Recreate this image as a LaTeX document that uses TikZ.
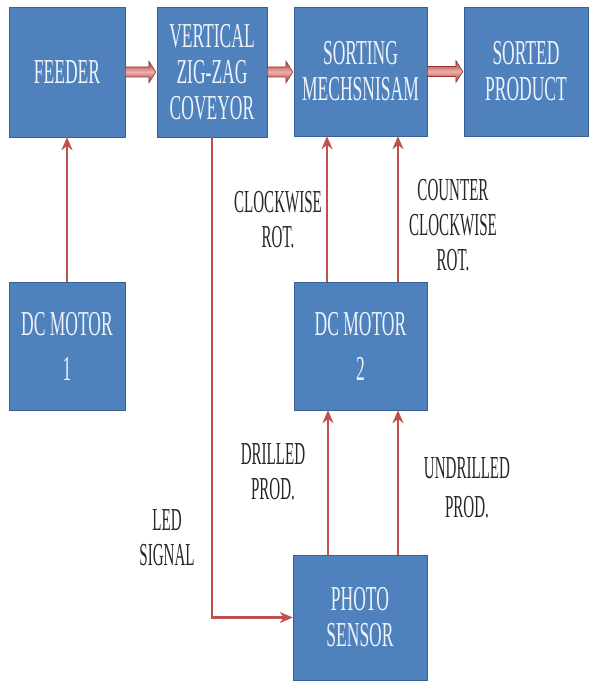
\documentclass[tikz,border=0pt]{standalone}
\usepackage{fontspec}
\usetikzlibrary{arrows.meta,positioning,calc}
\newfontfamily\diagfont[FakeStretch=0.5]{Liberation Serif}
\newfontfamily\tagfont[FakeStretch=0.47]{Liberation Serif}
\definecolor{boxblue}{RGB}{79,129,189}
\definecolor{boxedge}{RGB}{58,96,146}
\definecolor{linered}{RGB}{192,80,77}
\definecolor{darkred}{RGB}{150,50,48}
\definecolor{lightred}{RGB}{240,175,170}
\definecolor{boxtext}{RGB}{238,243,250}

\tikzset{
  block/.style={draw=boxedge, fill=boxblue, text=boxtext, align=center,
    inner sep=0pt, font=\diagfont\fontsize{35}{36}\selectfont},
  flow/.style={linered, line width=2.5pt, -{Stealth[length=13pt,width=11pt]}},
  tag/.style={align=center, text=black!85, font=\tagfont\fontsize{32}{35}\selectfont}
}

% thick shaded arrow between two boxes of the top row
\newcommand{\bigarrow}[2]{%
  \path[draw=darkred, line width=0.6pt, top color=darkred, bottom color=darkred,
    middle color=lightred]
    let \p1=(#1.east), \p2=(#2.west) in
    (\x1,\y1+5pt) -- (\x2-8pt,\y1+5pt) -- (\x2-8pt,\y1+11pt) -- (\x2-1pt,\y1)
    -- (\x2-8pt,\y1-11pt) -- (\x2-8pt,\y1-5pt) -- (\x1,\y1-5pt) -- cycle;}

\begin{document}
\begin{tikzpicture}[x=1pt, y=-1pt]
  \useasboundingbox (0,0) rectangle (591,682);

  % top row
  \node[block, minimum width=116, minimum height=130] (feeder) at (67,72) {FEEDER};
  \node[block, minimum width=110, minimum height=130] (conveyor) at (212,72)
    {VERTICAL\\ZIG-ZAG\\COVEYOR};
  \node[block, minimum width=133, minimum height=129] (sorter) at (360.5,71.5)
    {SORTING\\MECHSNISAM};
  \node[block, minimum width=124, minimum height=129] (product) at (526,71.5)
    {SORTED\\PRODUCT};

  % motors and sensor
  \node[block, minimum width=116, minimum height=128] (motorA) at (67,346)
    {DC MOTOR\\[9pt]1};
  \node[block, minimum width=133, minimum height=128] (motorB) at (360.5,346)
    {DC MOTOR\\[9pt]2};
  \node[block, minimum width=134, minimum height=125] (sensor) at (360,617.5)
    {PHOTO\\SENSOR};

  % thick arrows
  \bigarrow{feeder}{conveyor}
  \bigarrow{conveyor}{sorter}
  \bigarrow{sorter}{product}

  % thin arrows
  \draw[flow] (motorA.north) -- (feeder.south);
  \draw[flow] ([xshift=-33.5]motorB.north) -- ([xshift=-33.5]sorter.south);
  \draw[flow] ([xshift=37.5]motorB.north) -- ([xshift=37.5]sorter.south);
  \draw[flow] ([xshift=-32]sensor.north) -- ([xshift=-32]sensor.north |- motorB.south);
  \draw[flow] ([xshift=38]sensor.north) -- ([xshift=38]sensor.north |- motorB.south);
  \draw[flow] (conveyor.south) |- (sensor.west);

  % labels
  \node[tag] (cw) at (278,220) {CLOCKWISE\\ROT.};
  \node[tag] (ccw) at (453,225) {COUNTER\\CLOCKWISE\\ROT.};
  \node[tag] (drilled) at (273,472) {DRILLED\\PROD.};
  \node[tag] (undrilled) at (467,488) {UNDRILLED\\[4pt]PROD.};
  \node[tag] (led) at (167,538) {LED\\SIGNAL};
\end{tikzpicture}
\end{document}
